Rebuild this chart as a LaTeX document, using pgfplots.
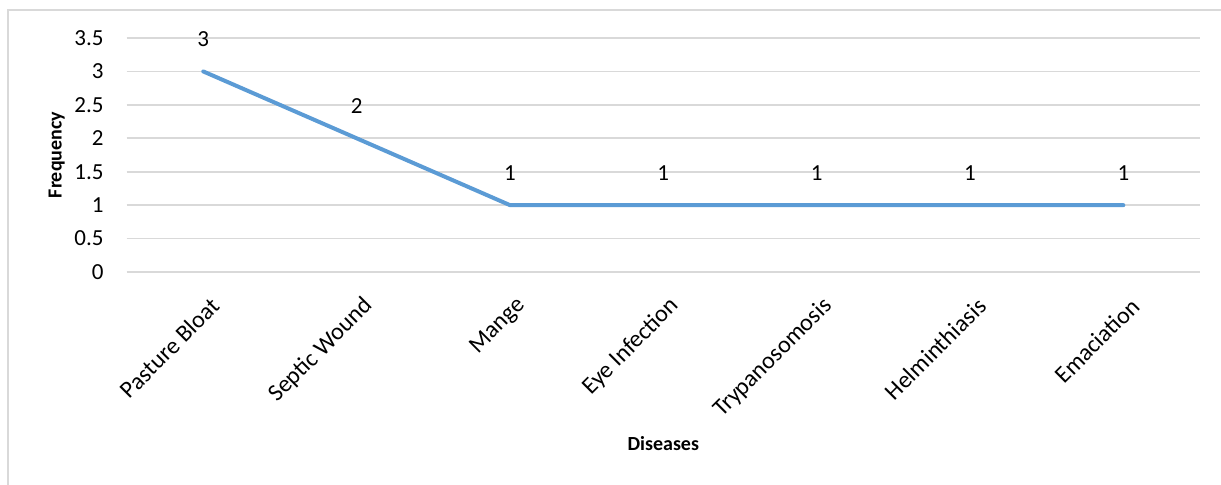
\documentclass[border=0pt]{standalone}
\usepackage{pgfplots}
\pgfplotsset{compat=1.18}
\usepackage{fontspec}
\setmainfont{Carlito}
\definecolor{lineblue}{HTML}{5B9BD5}
\definecolor{gridgray}{HTML}{D9D9D9}
\begin{document}
\begin{tikzpicture}
\useasboundingbox (0,0) rectangle (610.5pt,242.5pt);
\draw[gridgray, line width=0.75pt] (4pt,0) -- (4pt,237.5pt) -- (610.5pt,237.5pt);
\begin{axis}[
  at={(63.3pt,106.5pt)}, anchor=south west,
  scale only axis, width=536.7pt, height=117pt,
  xmin=-0.5, xmax=6.5, ymin=0, ymax=3.5,
  ytick={0,0.5,...,3.5},
  xtick={0,...,6},
  xticklabels={Pasture Bloat,Septic Wound,Mange,Eye Infection,Trypanosomosis,Helminthiasis,Emaciation},
  axis line style={draw=none},
  major tick length=0pt,
  ymajorgrids, xmajorgrids=false,
  grid style={gridgray, line width=0.9pt},
  yticklabel style={font=\fontsize{11.5}{13}\selectfont, xshift=-8pt},
  xticklabel style={font=\fontsize{12}{14}\selectfont, rotate=45, anchor=east, xshift=-3pt, yshift=-15pt},
  /pgf/number format/assume math mode=true,
  ylabel={Frequency}, xlabel={Diseases},
  every axis y label/.style={at={(axis description cs:-0.065,0.5)}, rotate=90, anchor=center, font=\fontsize{10}{12}\selectfont\bfseries},
  every axis x label/.style={at={(axis description cs:0.5,-0.735)}, anchor=center, font=\fontsize{10}{12}\selectfont\bfseries},
  nodes near coords,
  nodes near coords style={font=\fontsize{11.5}{13}\selectfont, text=black, anchor=center, yshift=16pt},
  clip=false,
]
\addplot[lineblue, line width=2pt, line cap=round, line join=round, mark=none] coordinates {
(0,3) (1,2) (2,1) (3,1) (4,1) (5,1) (6,1)
};
\end{axis}
\end{tikzpicture}
\end{document}
